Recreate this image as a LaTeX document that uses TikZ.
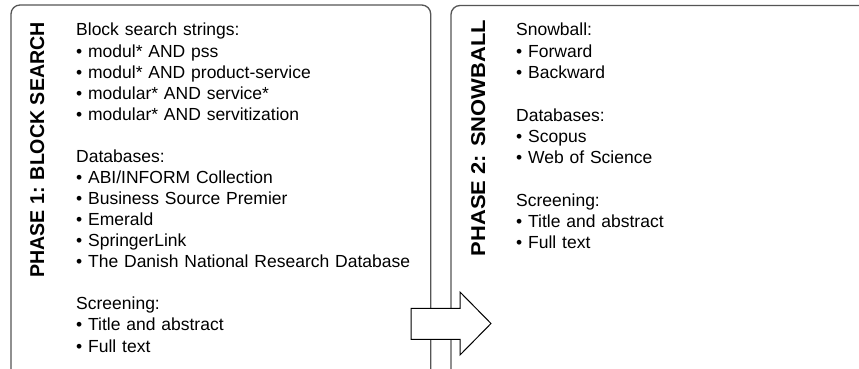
\documentclass[tikz,border=0pt]{standalone}
\usepackage{fontspec}
\setmainfont{Liberation Sans}
\setlength{\parindent}{0pt}
\definecolor{boxgray}{RGB}{85,85,85}
\begin{document}
\begin{tikzpicture}[x=1pt,y=-1pt,
  panel/.style={draw=boxgray, line width=1.3pt, rounded corners=9pt},
  body/.style={anchor=base west, inner sep=0pt, align=left, text width=370pt,
    font=\fontsize{17.5}{21.07}\selectfont},
  bodyr/.style={body, font=\fontsize{17.5}{21.27}\selectfont},
  title/.style={anchor=base, rotate=90, inner sep=0pt,
    font=\fontsize{20}{24}\selectfont\bfseries},
  flow/.style={draw=black, line width=1pt, fill=white, line join=miter}]
\useasboundingbox (0,0) rectangle (859,369);
\fill[white] (0,0) rectangle (859,369);
\clip (0,0) rectangle (859,369);
% panels
\draw[panel] (11,385) -- (11,5) -- (430.7,5) -- (430.7,385);
\draw[panel] (451,385) -- (451,5.5) -- (880,5.5);
% titles
\node[title, xscale=0.98] (t1) at (44,150) {PHASE 1: BLOCK SEARCH};
\node[title, xscale=1.097] (t2) at (485,138) {PHASE 2: SNOWBALL};
% texts
\node[body] (b1) at (76,36) {Block search strings:\\
• modul* AND pss\\
• modul* AND product-service\\
• modular* AND service*\\
• modular* AND servitization\\[21.07pt]
Databases:\\
• ABI/INFORM Collection\\
• Business Source Premier\\
• Emerald\\
• SpringerLink\\
• The Danish National Research Database\\[21.07pt]
Screening:\\
• Title and abstract\\
• Full text};
\node[bodyr] (b2) at (516,36) {Snowball:\\
• Forward\\
• Backward\\[21.27pt]
Databases:\\
• Scopus\\
• Web of Science\\[21.27pt]
Screening:\\
• Title and abstract\\
• Full text};
% arrow
\draw[flow] (411,308.3) -- (460,308.3) -- (460,292) -- (491,323.5)
  -- (460,355) -- (460,339.3) -- (411,339.3) -- cycle;
\end{tikzpicture}
\end{document}
